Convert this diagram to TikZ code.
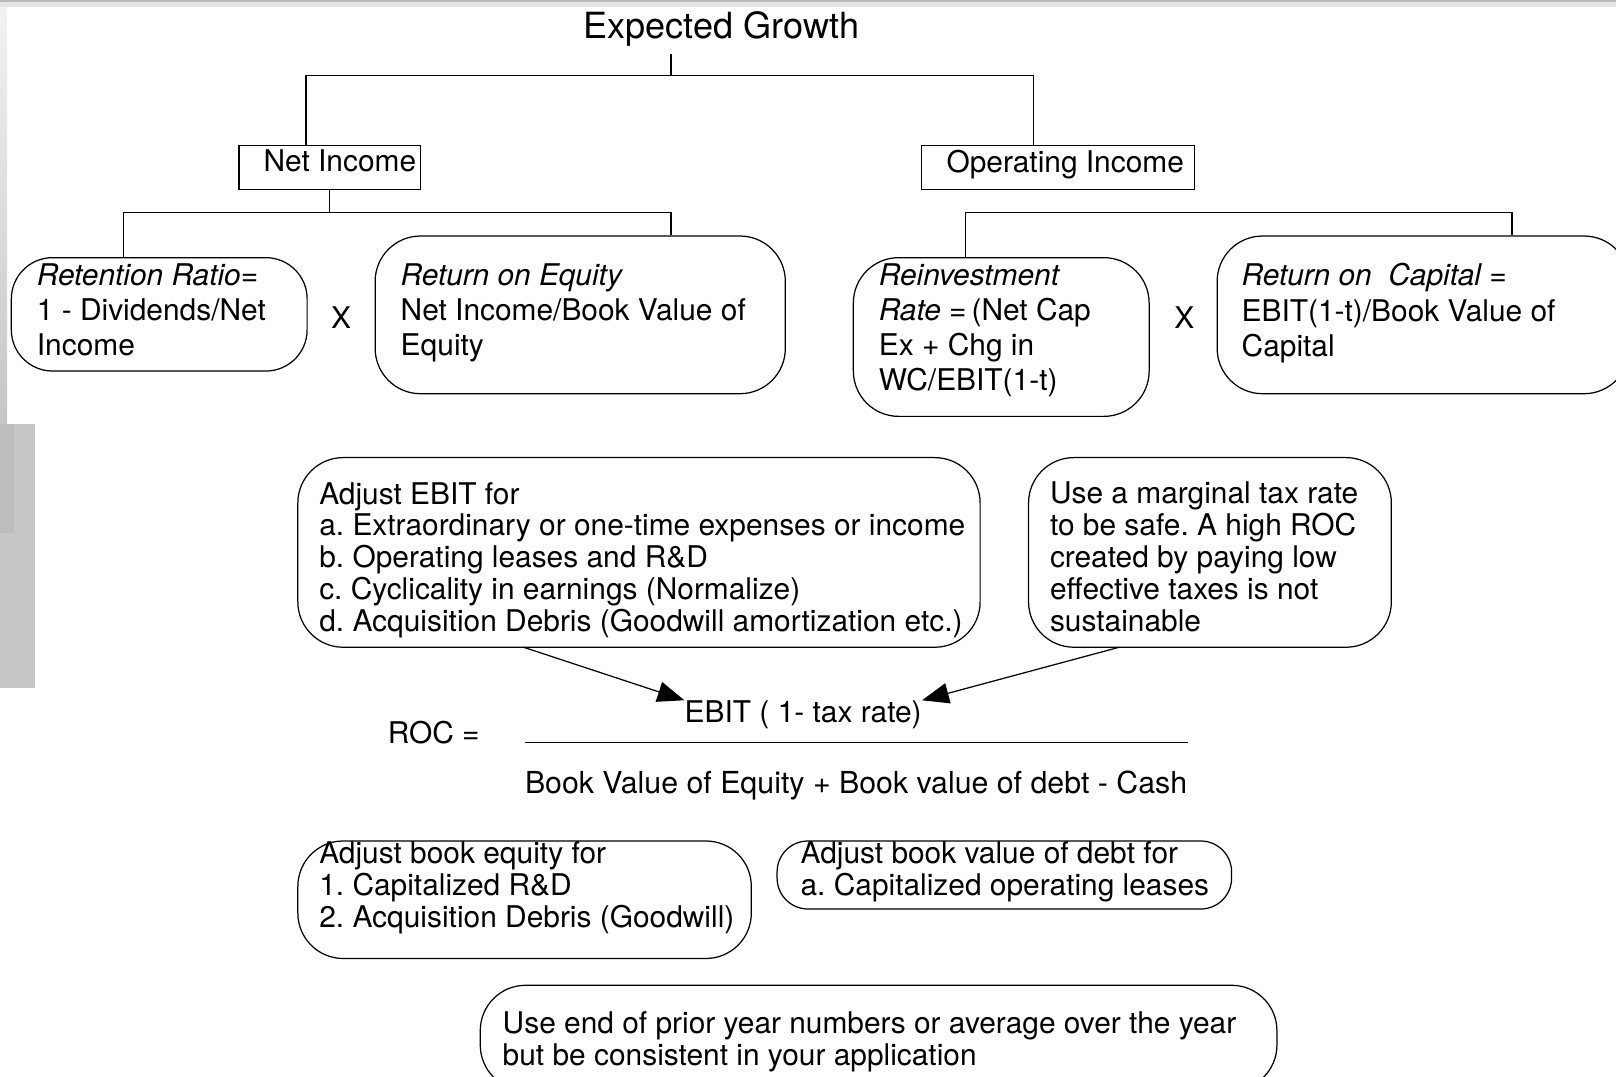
\documentclass[tikz,border=0pt]{standalone}
\usepackage{fontspec}
\setmainfont{TeX Gyre Heros}
\usetikzlibrary{positioning}
\usetikzlibrary{arrows.meta}
\frenchspacing

\begin{document}
\begin{tikzpicture}[x=0.5pt, y=-0.5pt,
			sqbox/.style = {draw, line width=0.6pt, inner sep=0pt, minimum height=21.5pt},
			rbox/.style = {draw, line width=0.6pt, inner sep=0pt, rounded corners=22pt},
			txt/.style = {inner sep=0pt, align=left, font=\fontsize{14.5}{17}\selectfont},
			txtb/.style = {txt, font=\fontsize{14.5}{15.5}\selectfont},
			link/.style = {line width=0.6pt},
			pointer/.style = {line width=0.6pt, -{Triangle[length=13pt, width=10pt]}}
			]
			\useasboundingbox (0,0) rectangle (1568,1045);
			\clip (0,0) rectangle (1568,1045);
			% slide edges
			\fill[gray!55] (0,0) rectangle (1568,2);
			\fill[gray!20] (0,2) rectangle (1568,7);
			\shade[top color=gray!10, bottom color=gray!45] (0,7) rectangle (7,411);
			\fill[gray!45] (0,411) rectangle (34,668);
			\fill[gray!52] (0,411) rectangle (14,517);

			% growth split
			\node (title) [anchor=base west, inner sep=0pt, font=\fontsize{17.5}{20}\selectfont] at (566,37) {Expected Growth};
			\node (netBox) [sqbox, minimum width=88pt] at (320,162.5) {};
			\node (netTxt) [txt, below right=2.4pt and 12pt of netBox.north west] {Net Income};
			\node (opBox) [sqbox, minimum width=132.5pt] at (1026.5,162.5) {};
			\node (opTxt) [txt, below right=2.4pt and 12.3pt of opBox.north west] {Operating Income};
			\coordinate (gTop) at (651,52);
			\coordinate (gL) at (297,73);
			\coordinate (gR) at (1003,73);
			\draw [link] (gTop) -- (gTop |- gL);
			\draw [link] (netBox.north -| gL) -- (gL) -- (gR) -- (opBox.north -| gR);

			% net income side
			\node (retainBox) [rbox, rounded corners=20pt, minimum width=143.5pt, minimum height=55pt] at (154.5,305) {};
			\node (retainTxt) [txt, below right=3pt and 12.5pt of retainBox.north west] {{\itshape Retention Ratio=}\\1 - Dividends/Net\\Income};
			\node (roeBox) [rbox, minimum width=199pt, minimum height=76.5pt] at (563,305.5) {};
			\node (roeTxt) [txt, below right=13.5pt and 12.5pt of roeBox.north west] {{\itshape Return on Equity}\\Net Income/Book Value of\\Equity};
			\node (timesA) [txt, anchor=base west] at (321,318.5) {X};
			\coordinate (niL) at (120,206);
			\coordinate (niR) at (651,206);
			\draw [link] (netBox.south) -- (netBox.south |- niL);
			\draw [link] (retainBox.north -| niL) -- (niL) -- (niR) -- (roeBox.north -| niR);

			% operating income side
			\node (reinvBox) [rbox, minimum width=143.5pt, minimum height=77pt] at (971.5,327) {};
			\node (reinvTxt) [txt, below right=3pt and 12.5pt of reinvBox.north west] {{\itshape Reinvestment}\\{\itshape Rate =\,}(Net Cap\\Ex + Chg in\\WC/EBIT(1-t)};
			\node (rocBox) [rbox, minimum width=200pt, minimum height=76.5pt] at (1381,305.5) {};
			\node (rocTxt) [txt, below right=13.5pt and 12pt of rocBox.north west] {{\itshape Return on\ \ Capital =}\\EBIT(1-t)/Book Value of\\Capital};
			\node (timesB) [txt, anchor=base west] at (1139,318.5) {X};
			\coordinate (oiL) at (937,206);
			\coordinate (oiR) at (1467,206);
			\draw [link] (reinvBox.north -| oiL) -- (oiL) -- (oiR) -- (rocBox.north -| oiR);

			% numerator notes
			\node (ebitBox) [rbox, minimum width=331pt, minimum height=92pt] at (620,536) {};
			\node (ebitTxt) [txtb, below right=12pt and 10.5pt of ebitBox.north west] {Adjust EBIT for\\a. Extraordinary or one-time expenses or income\\b. Operating leases and R\&D\\c. Cyclicality in earnings (Normalize)\\d. Acquisition Debris (Goodwill amortization etc.)};
			\node (taxBox) [rbox, minimum width=176pt, minimum height=92pt] at (1174,536) {};
			\node (taxTxt) [txtb, below right=12pt and 10.5pt of taxBox.north west] {Use a marginal tax rate\\to be safe. A high ROC\\created by paying low\\effective taxes is not\\sustainable};

			% ROC fraction
			\node (numer) [txt, anchor=base west] at (664,701) {EBIT ( 1- tax rate)};
			\node (rocEq) [txt, anchor=base west] at (376,721) {ROC =};
			\node (denom) [txt, anchor=base west, font=\fontsize{14.7}{17}\selectfont] at (509,770) {Book Value of Equity + Book value of debt - Cash};
			\draw [link] ([yshift=13.5pt]denom.north west) -- ([yshift=13.5pt]denom.north east);
			\coordinate (ebitFoot) at (508,628);
			\coordinate (taxFoot) at (1086,628);
			\draw [pointer] (ebitFoot) -- (numer.north west);
			\draw [pointer] (taxFoot) -- (numer.north east);

			% denominator notes
			\node (eqBox) [rbox, minimum width=220pt, minimum height=57pt] at (509,873) {};
			\node (eqTxt) [txtb, below right=0.5pt and 10.5pt of eqBox.north west] {Adjust book equity for\\1. Capitalized R\&D\\2. Acquisition Debris (Goodwill)};
			\node (debtBox) [rbox, rounded corners=15pt, minimum width=220.5pt, minimum height=33pt] at (974.5,849) {};
			\node (debtTxt) [txtb, below right=0.5pt and 11.5pt of debtBox.north west] {Adjust book value of debt for\\a. Capitalized operating leases};
			\node (useBox) [rbox, minimum width=386.5pt, minimum height=51pt] at (852.5,1007) {};
			\node (useTxt) [txtb, below right=13pt and 11pt of useBox.north west] {Use end of prior year numbers or average over the year\\but be consistent in your application};
		\end{tikzpicture}
\end{document}
